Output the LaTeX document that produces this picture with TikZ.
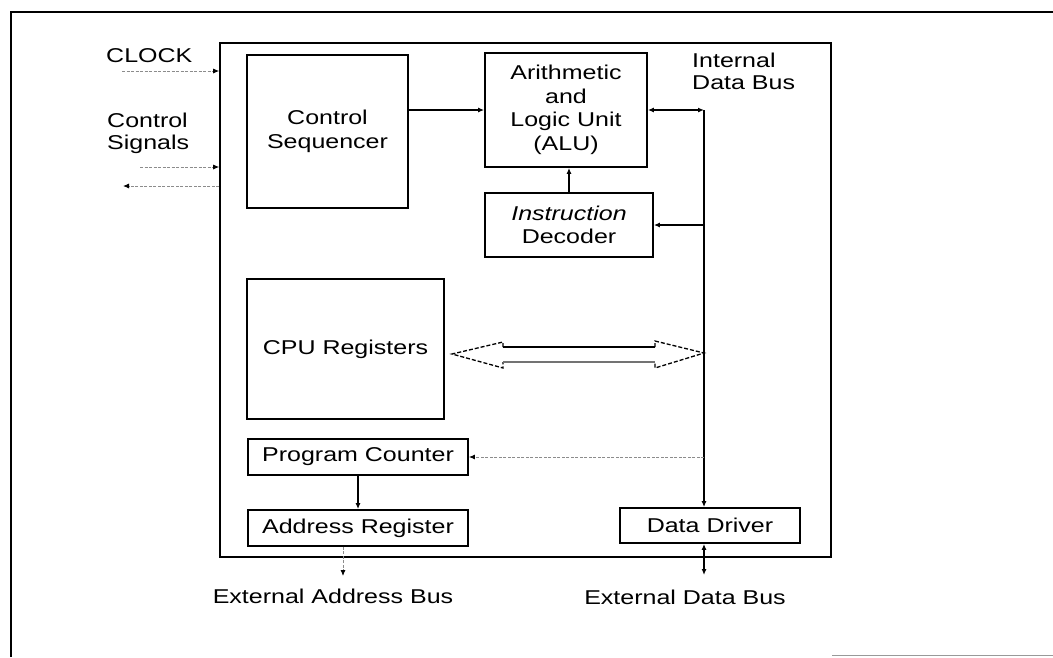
\documentclass[tikz,border=0pt]{standalone}
\usepackage{fontspec}
\setmainfont[FakeStretch=1.25]{Liberation Sans}
\usetikzlibrary{arrows.meta,calc}
\begin{document}
\begin{tikzpicture}[x=1pt,y=-1pt,
  box/.style={draw=black,line width=1.8pt,inner sep=0pt,align=center,font=\fontsize{20}{23.5}\selectfont},
  lbl/.style={inner sep=0pt,font=\fontsize{20}{22}\selectfont,align=left},
  tip/.style={-{Latex[length=6pt,width=5pt,color=black]}},
  tips/.style={{Latex[length=6pt,width=5pt,color=black]}-{Latex[length=6pt,width=5pt,color=black]}},
  conn/.style={line width=1.2pt,black},
  sig/.style={line width=0.9pt,black!45,dash pattern=on 3pt off 1.5pt},
  hd/.style={line width=1.3pt,black,dash pattern=on 4pt off 2pt},
]
\useasboundingbox (0,0) rectangle (1053,657);
\fill[white] (0,0) rectangle (1053,657);
% outer frame
\draw[line width=1.5pt] (11,657) -- (11,12) -- (1053,12);
\draw[black!40,line width=1pt] (832,655.5) -- (1053,655.5);

% CPU box
\node[draw,line width=1.6pt,minimum width=611pt,minimum height=514pt,inner sep=0pt] (cpu) at (525.5,300) {};

% blocks
\node[box,minimum width=161pt,minimum height=153pt] (ctrl) at (327.5,131.5) {Control\\Sequencer};
\node[box,minimum width=162pt,minimum height=114pt] (alu) at (566,110) {Arithmetic\\and\\Logic Unit\\(ALU)};
\node[box,minimum width=168pt,minimum height=64pt] (dec) at (569,225) {{\itshape Instruction}\\Decoder};
\node[box,minimum width=197pt,minimum height=140pt] (reg) at (345.5,349) {CPU Registers};
\node[box,minimum width=220pt,minimum height=36pt] (pc) at (358,457) {Program Counter};
\node[box,minimum width=220pt,minimum height=36pt] (ar) at (358,528) {Address Register};
\node[box,minimum width=180pt,minimum height=35pt] (dd) at (710,525.5) {Data Driver};

% labels
\node[lbl,anchor=base west] (clock) at (106,62) {CLOCK};
\node[lbl,anchor=west] (csig) at (107,133) {Control\\Signals};
\node[lbl,anchor=west] (idb) at (692,71) {Internal\\Data Bus};
\node[lbl,anchor=base] (eabl) at (333,603) {External Address Bus};
\node[lbl,anchor=base] (edbl) at (685,604) {External Data Bus};

% coordinates
\coordinate (bt) at (704,110);
\coordinate (clk) at (122,71);
\coordinate (cs1) at (140,167);
\coordinate (cs2) at (123,186);
\coordinate (eab) at (343,576);
\coordinate (edb) at (704,575);

% signal lines on the left
\draw[sig,tip] (clk) -- (cpu.west |- clk);
\draw[sig,tip] (cs1) -- (cpu.west |- cs1);
\draw[sig,tip] (cpu.west |- cs2) -- (cs2);

% connectors
\draw[conn,tip] (ctrl.east |- alu.west) -- (alu.west);
\draw[conn,tips] (alu.east) -- (bt);
\draw[conn,tip] (bt) -- (bt |- dd.north);
\draw[conn,tip] (bt |- dec.east) -- (dec.east);
\draw[conn,tip] (dec.north) -- (dec.north |- alu.south);
\draw[sig,tip] (bt |- pc.east) -- (pc.east);
\draw[conn,tip] (pc.south) -- (ar.north);
\draw[sig,tip] (ar.south -| eab) -- (eab);
\draw[conn,tips] (dd.south -| edb) -- (edb);

% wide double arrow between CPU registers and internal bus
\draw[hd] (503,347) -- (503,342) -- (452,354) -- (503,368) -- (503,362);
\draw[hd] (655,347) -- (655,341) -- (bt |- 0,353) -- (655,368) -- (655,362);
\draw[line width=2pt,black] (503,347) -- (655,347);
\draw[line width=1.2pt,black!55] (503,362) -- (655,362);
\end{tikzpicture}
\end{document}
